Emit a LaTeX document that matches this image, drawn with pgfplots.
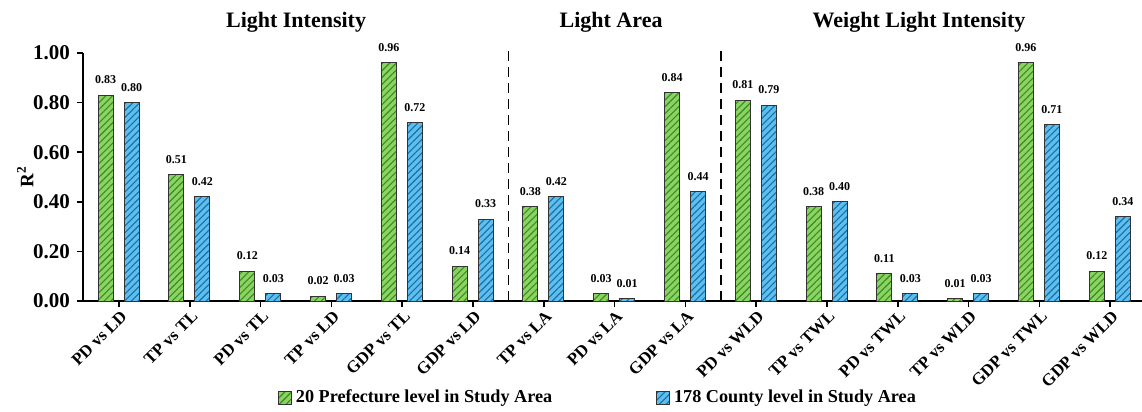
\documentclass[border=0pt]{standalone}
\usepackage{pgfplots}
\pgfplotsset{compat=1.18}
\usepackage{fontspec}
\setmainfont{Liberation Serif}
\usetikzlibrary{patterns.meta}

\definecolor{barG}{HTML}{8CD460}
\definecolor{hatchG}{HTML}{3A8A2A}
\definecolor{barB}{HTML}{5CC0EE}
\definecolor{hatchB}{HTML}{1E6AA6}

\begin{document}
\begin{tikzpicture}
\useasboundingbox (-41.5pt,-55.5pt) rectangle (529.5pt,150.5pt);
\begin{axis}[
  at={(0,0)}, anchor=south west,
  scale only axis,
  width=529.5pt, height=124pt,
  xmin=-0.51, xmax=14.45,
  ymin=0, ymax=1,
  axis x line*=bottom, axis y line*=left,
  axis line style={line width=0.9pt},
  tick style={line width=0.8pt, black},
  tick align=outside,
  major tick length=3pt,
  xtick={0,...,14},
  xticklabels={PD vs LD, TP vs TL, PD vs TL, TP vs LD, GDP vs TL, GDP vs LD,
               TP vs LA, PD vs LA, GDP vs LA,
               PD vs WLD, TP vs TWL, PD vs TWL, TP vs WLD, GDP vs TWL, GDP vs WLD},
  xticklabel style={rotate=45, anchor=north east, font=\fontsize{8.5}{9}\selectfont\bfseries, inner sep=1pt, xshift=0.6pt},
  ytick={0,0.2,0.4,0.6,0.8,1.0},
  yticklabel style={font=\fontsize{10.5}{11}\selectfont\bfseries,
     /pgf/number format/.cd, fixed, fixed zerofill, precision=2, assume math mode=true},
  ylabel={R\textsuperscript{2}},
  ylabel style={font=\fontsize{9.5}{10}\selectfont\bfseries, yshift=-7pt},
  ybar, bar width=7.5pt,
  clip=false,
  nodes near coords,
  point meta=y,
  nodes near coords style={font=\fontsize{6}{6}\selectfont\bfseries, yshift=2pt,
     /pgf/number format/.cd, fixed, fixed zerofill, precision=2, assume math mode=true},
  legend columns=2,
  legend style={draw=none, at={(axis cs:6.78,-0.39)}, anchor=center,
     font=\fontsize{9.1}{10}\selectfont\bfseries,
     /tikz/every even column/.append style={column sep=50pt}},
  legend image code/.code={\draw[#1] (0pt,-3.2pt) rectangle (6.4pt,3.2pt);},
]
\addplot[fill=barG, draw=black!80, line width=0.5pt, bar shift=-6.7pt,
  postaction={pattern={Lines[angle=45,distance=2.4pt,line width=0.55pt]}, pattern color=hatchG}]
  coordinates {(0,0.83) (1,0.51) (2,0.12) (3,0.02) (4,0.96) (5,0.14)
               (6,0.38) (7,0.03) (8,0.84)
               (9,0.81) (10,0.38) (11,0.11) (12,0.01) (13,0.96) (14,0.12)};
\addplot[fill=barB, draw=black!80, line width=0.5pt, bar shift=6.3pt,
  postaction={pattern={Lines[angle=45,distance=2.4pt,line width=0.55pt]}, pattern color=hatchB}]
  coordinates {(0,0.80) (1,0.42) (2,0.03) (3,0.03) (4,0.72) (5,0.33)
               (6,0.42) (7,0.01) (8,0.44)
               (9,0.79) (10,0.40) (11,0.03) (12,0.03) (13,0.71) (14,0.34)};
\legend{20 Prefecture level in Study Area, 178 County level in Study Area}

% group separators
\draw[line width=0.8pt, dash pattern=on 5pt off 3pt] (axis cs:5.5,0) -- (axis cs:5.5,1.03);
\draw[line width=0.8pt, dash pattern=on 5pt off 3pt] (axis cs:8.5,0) -- (axis cs:8.5,1.03);

% group titles
\node[font=\fontsize{11}{12}\selectfont\bfseries] at (axis cs:2.5,1.125) {Light Intensity};
\node[font=\fontsize{11}{12}\selectfont\bfseries] at (axis cs:6.95,1.125) {Light Area};
\node[font=\fontsize{11}{12}\selectfont\bfseries] at (axis cs:11.3,1.125) {Weight Light Intensity};
\end{axis}
\end{tikzpicture}
\end{document}
